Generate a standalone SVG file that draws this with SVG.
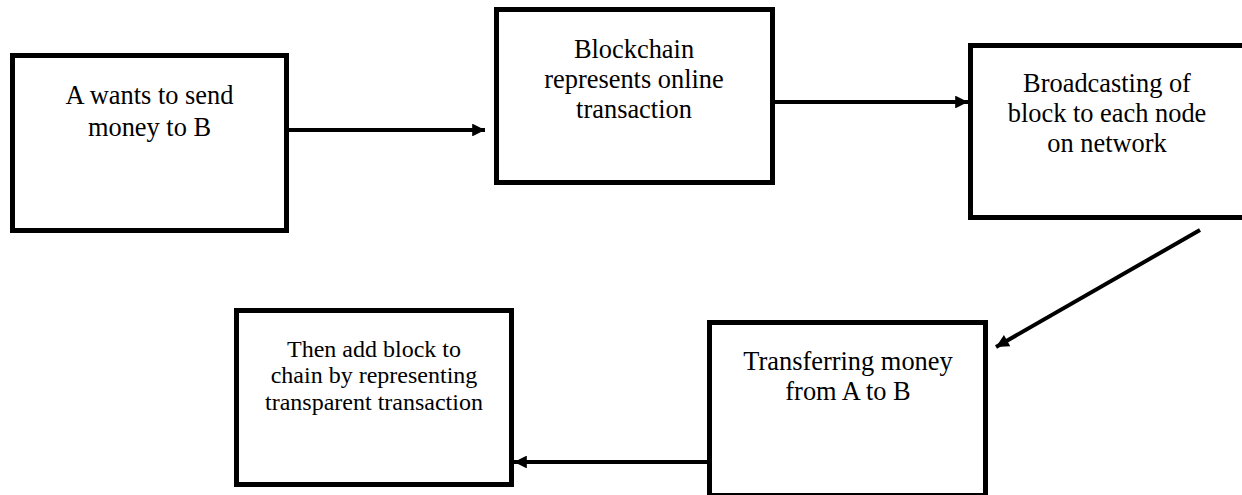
<svg xmlns="http://www.w3.org/2000/svg" width="1242" height="495" viewBox="0 0 1242 495">
<style>
.box{fill:#fff;stroke:#000;stroke-width:5}
.lbl{font-family:"Liberation Serif","Times New Roman",serif;font-size:26.4px;fill:#000;text-anchor:middle}
.sm{font-size:24px}
.conn{stroke:#000;stroke-width:4;fill:none}
</style>
<defs>
<marker id="ah" viewBox="0 0 10 10" refX="10" refY="5" markerWidth="4" markerHeight="3.2" orient="auto" markerUnits="strokeWidth">
<path d="M0,0 L10,5 L0,10 Z" fill="#000"/>
</marker>
</defs>
<rect width="1242" height="495" fill="#fff"/>
<g id="connectors">
<line class="conn" x1="289" y1="130" x2="485" y2="130" marker-end="url(#ah)"/>
<line class="conn" x1="775" y1="102" x2="968" y2="102" marker-end="url(#ah)"/>
<line class="conn" x1="1200" y1="230" x2="996" y2="347" marker-end="url(#ah)"/>
<line class="conn" x1="707" y1="462" x2="514" y2="462" marker-end="url(#ah)"/>
</g>
<g id="node1">
<rect class="box" x="12.5" y="55.5" width="274" height="175"/>
<text class="lbl"><tspan x="149.5" y="104">A wants to send</tspan><tspan x="149.5" y="136">money to B</tspan></text>
</g>
<g id="node2">
<rect class="box" x="496.5" y="9.5" width="276" height="173"/>
<text class="lbl"><tspan x="634" y="58">Blockchain</tspan><tspan x="634" y="88">represents online</tspan><tspan x="634" y="118">transaction</tspan></text>
</g>
<g id="node3">
<rect class="box" x="970.5" y="45.5" width="280" height="172"/>
<text class="lbl"><tspan x="1107" y="92">Broadcasting of</tspan><tspan x="1107" y="122">block to each node</tspan><tspan x="1107" y="152">on network</tspan></text>
</g>
<g id="node4">
<rect class="box" x="709.5" y="322.5" width="276" height="173"/>
<text class="lbl"><tspan x="848" y="370">Transferring money</tspan><tspan x="848" y="400">from A to B</tspan></text>
</g>
<g id="node5">
<rect class="box" x="236.5" y="310.5" width="275" height="174"/>
<text class="lbl sm"><tspan x="374" y="357">Then add block to</tspan><tspan x="374" y="383">chain by representing</tspan><tspan x="374" y="410">transparent transaction</tspan></text>
</g>
</svg>
